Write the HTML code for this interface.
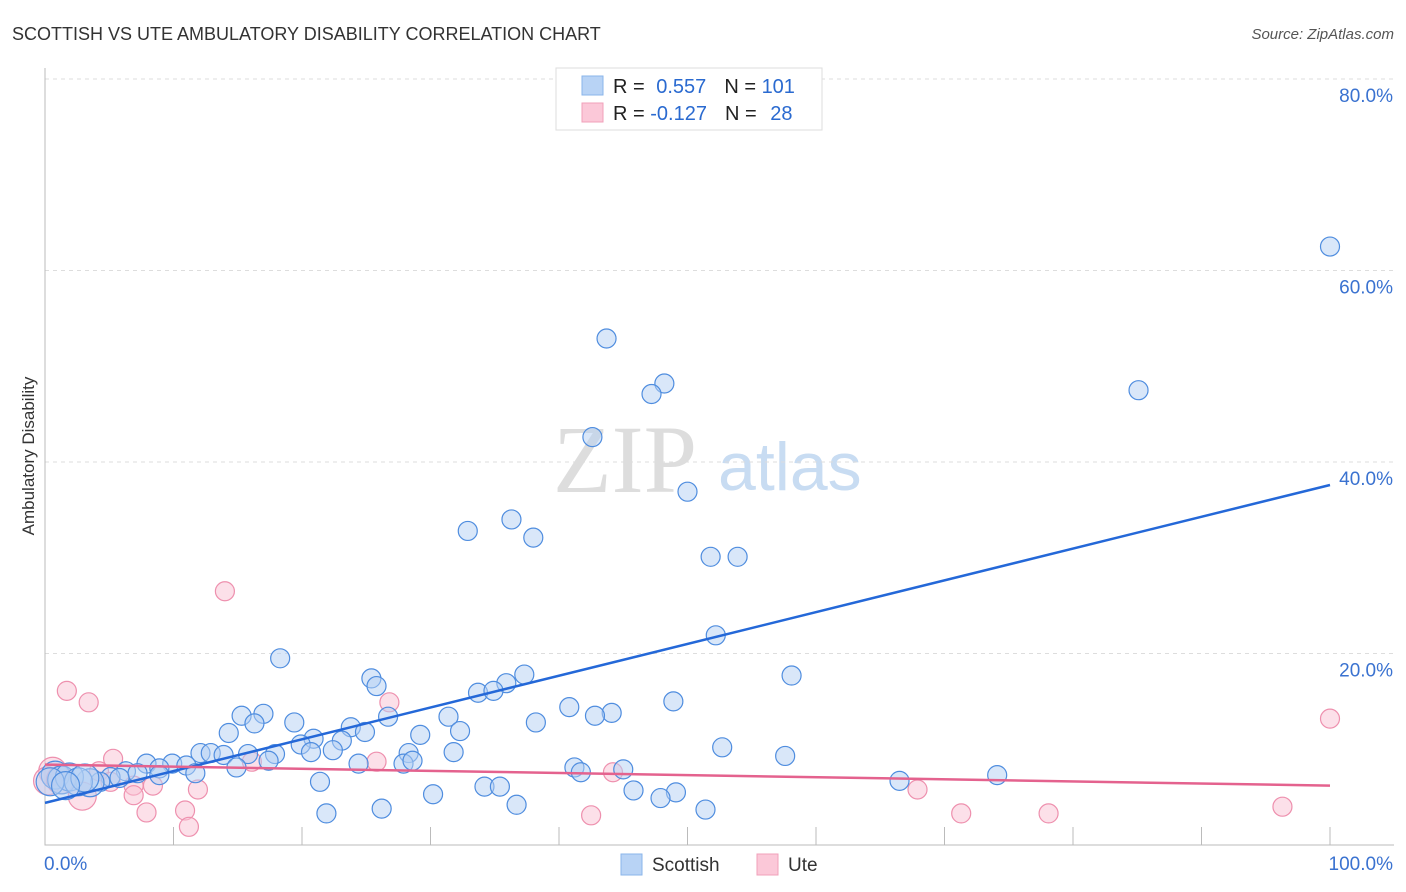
<!DOCTYPE html>
<html><head><meta charset="utf-8"><style>
body{margin:0;background:#fff;font-family:"Liberation Sans",sans-serif;}
svg{display:block}
</style></head><body>
<svg id="chart" width="1406" height="892" viewBox="0 0 1406 892">
<text x="12" y="40" font-size="18" fill="#333">SCOTTISH VS UTE AMBULATORY DISABILITY CORRELATION CHART</text>
<text x="1394" y="39" font-size="15" fill="#555" text-anchor="end" font-style="italic">Source: ZipAtlas.com</text>
<text x="553" y="492" font-size="96" fill="#ddd" font-family="Liberation Serif,serif">ZIP</text>
<text x="718" y="490" font-size="68" fill="#c8dcf2">atlas</text>
<text transform="translate(34,456) rotate(-90)" font-size="17" fill="#333" text-anchor="middle">Ambulatory Disability</text>
<g id="grid"></g><g id="axes"></g><g id="pts"></g><g id="trend"></g>
<g>
<rect x="556" y="68" width="266" height="62" fill="#fff" stroke="#ddd"/>
<rect x="582" y="76" width="21" height="19" fill="#b8d3f5" stroke="#8ab4ea"/>
<rect x="582" y="103" width="21" height="19" fill="#fbc8d8" stroke="#f0a0ba"/>
<text x="613" y="93" font-size="20" fill="#222">R = <tspan fill="#2a6ad0" dx="6">0.557</tspan><tspan dx="18">N = </tspan><tspan fill="#2a6ad0">101</tspan></text>
<text x="613" y="120" font-size="20" fill="#222">R = <tspan fill="#2a6ad0">-0.127</tspan><tspan dx="18">N = </tspan><tspan fill="#2a6ad0" dx="8">28</tspan></text>
</g>
<g>
<rect x="621" y="854" width="21" height="21" fill="#b8d3f5" stroke="#8ab4ea"/>
<text x="652" y="871" font-size="19" fill="#333">Scottish</text>
<rect x="757" y="854" width="21" height="21" fill="#fbc8d8" stroke="#f0a0ba"/>
<text x="788" y="871" font-size="19" fill="#333">Ute</text>
</g>
</svg>
<script>
const yTicks=[20,40,60,80];
const yTickLabels=["20.0%","40.0%","60.0%","80.0%"];
const xTickLabels=["0.0%","100.0%"];
const scottishX=[100,43.7,48.2,47.2,85.1,42.6,50.0,32.9,36.3,38.0,51.8,53.9,52.2,18.3,58.1,37.3,25.4,25.8,35.9,33.7,34.9,48.9,40.8,44.1,42.8,15.3,17.0,19.4,31.4,16.3,38.2,32.3,26.7,23.8,24.9,14.3,29.2,20.9,23.1,19.9,22.4,52.7,57.6,31.8,28.3,12.1,12.9,13.9,15.8,17.9,20.7,17.4,24.4,27.9,28.6,7.9,9.9,11.0,8.9,14.9,41.2,41.7,45.0,11.7,6.3,7.2,8.9,66.5,74.1,21.4,34.2,35.4,45.8,49.1,30.2,47.9,36.7,26.2,21.9,51.4,5.1,4.3,3.5,0.8,1.3,1.9,2.6,3.1,0.4,1.6,5.8];
const scottishY=[62.5,52.9,48.2,47.1,47.5,42.6,36.9,32.8,34.0,32.1,30.1,30.1,21.9,19.5,17.7,17.8,17.4,16.6,16.9,15.9,16.1,15.0,14.4,13.8,13.5,13.5,13.7,12.8,13.4,12.7,12.8,11.9,13.4,12.3,11.8,11.7,11.5,11.1,10.9,10.5,9.9,10.2,9.3,9.7,9.6,9.6,9.6,9.4,9.5,9.5,9.7,8.8,8.5,8.5,8.8,8.5,8.5,8.3,8.0,8.1,8.1,7.6,7.9,7.5,7.7,7.5,7.3,6.7,7.3,6.6,6.1,6.1,5.7,5.5,5.3,4.9,4.2,3.8,3.3,3.7,7.1,6.6,6.5,7.3,6.8,7.1,6.6,7.0,6.6,6.2,7.0];
const uteX=[1.7,3.4,14.0,26.8,100,5.3,4.2,0.6,6.9,8.4,11.9,2.9,6.9,7.9,10.9,11.2,16.1,25.8,44.2,67.9,71.3,78.1,96.3,42.5,0.2,1.2,5.1];
const uteY=[16.1,14.9,26.5,14.9,13.2,9.0,7.7,7.7,6.2,6.2,5.8,5.1,5.2,3.4,3.6,1.9,8.7,8.7,7.6,5.8,3.3,3.3,4.0,3.1,6.7,6.8,6.6];
const scottishTrend=[4.4,37.6];
const uteTrend=[8.4,6.2];
const X0=45,X1=1330,Y0=845,YS=9.575;
const sx=v=>X0+(X1-X0)*v/100, sy=v=>Y0-v*YS;
const NS="http://www.w3.org/2000/svg";
function mk(tag,attrs,parent){const e=document.createElementNS(NS,tag);for(const k in attrs)e.setAttribute(k,attrs[k]);document.getElementById(parent).appendChild(e);return e;}
yTicks.forEach((t,i)=>{
 const g=mk('line',{x1:X0,x2:1394,y1:sy(t),y2:sy(t),stroke:'#ddd','stroke-dasharray':'4,4'},'grid');
 
 
 const l=mk('text',{x:1393,y:sy(t)+23,'font-size':19,fill:'#3a72d0','text-anchor':'end'},'grid');
 l.textContent=yTickLabels[i];
 
 
});
const ax=mk('path',{d:`M${X0},68 V${Y0} H1394`,stroke:'#bbb',fill:'none'},'axes');


for(let i=1;i<=10;i++){const t=mk('line',{x1:sx(i*10),x2:sx(i*10),y1:Y0,y2:Y0-18,stroke:'#bbb'},'axes');
 
 }
[[0,'start',44],[100,'end',1393]].forEach((d,i)=>{const l=mk('text',{x:d[2],y:870,'font-size':19,fill:'#3a72d0','text-anchor':d[1]},'axes');l.textContent=xTickLabels[i];
 
 });
function dots(xs,ys,fill,stroke,name){xs.forEach((x,i)=>{const r=(x<3.6&&ys[i]<9)?14:9.5;
 const c=mk('circle',{cx:sx(x),cy:sy(ys[i]),r:r,fill:fill,'fill-opacity':0.5,stroke:stroke,'stroke-width':1.2},'pts');
 
 });}
dots(uteX,uteY,'#f9c2d4','#ee90ae','ute-point');
dots(scottishX,scottishY,'#b3cff3','#4f8ddf','scottish-point');
const t1=mk('line',{x1:sx(0),y1:sy(scottishTrend[0]),x2:sx(100),y2:sy(scottishTrend[1]),stroke:'#2468d8','stroke-width':2.5},'trend');


const t2=mk('line',{x1:sx(0),y1:sy(uteTrend[0]),x2:sx(100),y2:sy(uteTrend[1]),stroke:'#e4628e','stroke-width':2.5},'trend');


</script>
</body></html>
